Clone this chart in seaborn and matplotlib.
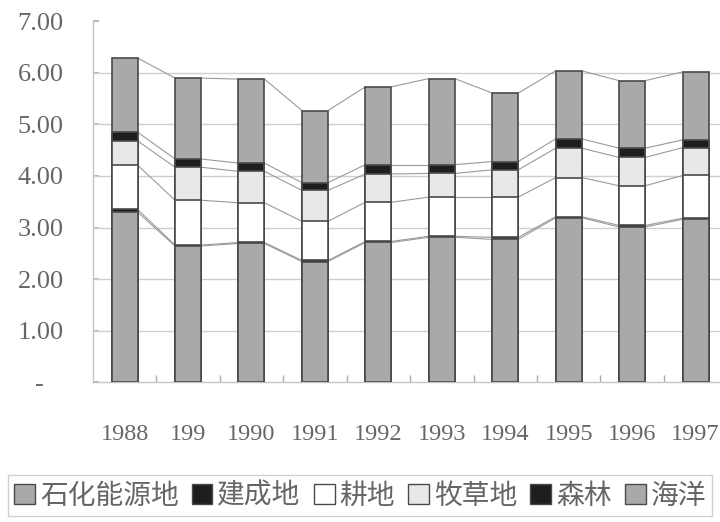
import numpy as np
import pandas as pd
import matplotlib
matplotlib.use("Agg")
import matplotlib.pyplot as plt
from matplotlib.patches import Patch
from matplotlib.ticker import FixedLocator
import seaborn as sns

# data (per-capita footprint by land type)
years = ["1988", "199", "1990", "1991", "1992", "1993", "1994", "1995", "1996", "1997"]
fossil  = [3.30, 2.64, 2.69, 2.34, 2.71, 2.81, 2.77, 3.19, 3.01, 3.16]
built   = [0.05, 0.02, 0.02, 0.02, 0.02, 0.02, 0.04, 0.02, 0.03, 0.02]
arable  = [0.86, 0.87, 0.77, 0.76, 0.76, 0.76, 0.78, 0.76, 0.77, 0.83]
pasture = [0.47, 0.64, 0.61, 0.60, 0.55, 0.46, 0.53, 0.57, 0.55, 0.54]
forest  = [0.17, 0.16, 0.16, 0.15, 0.18, 0.17, 0.16, 0.18, 0.18, 0.15]
ocean   = [1.44, 1.57, 1.63, 1.40, 1.51, 1.67, 1.33, 1.32, 1.31, 1.32]

labels = ["石化能源地", "建成地", "耕地", "牧草地", "森林", "海洋"]
colors = ["#a9a9a9", "#1e1e1e", "#ffffff", "#e8e8e6", "#1e1e1e", "#a9a9a9"]
layers = [fossil, built, arable, pasture, forest, ocean]
ytick_labels = ["-   ", "1.00", "2.00", "3.00", "4.00", "5.00", "6.00", "7.00"]

sns.set_theme(style="white")
plt.rcParams["font.family"] = ["Liberation Serif", "Noto Sans CJK SC"]

df = pd.DataFrame(dict(zip(labels, layers)), index=years)
cum = df.cumsum(axis=1)

BAR_W = 0.41
EDGE = "#4a4a4a"
TXT = "#666666"

fig = plt.figure(figsize=(7.2, 5.22), dpi=100)
ax = fig.add_axes([0.129, 0.268, 0.871, 0.691])

# stacked bars: draw cumulative totals from the top layer down
for lab, col in reversed(list(zip(labels, colors))):
    sns.barplot(x=years, y=cum[lab].values, color=col, saturation=1,
                width=BAR_W, edgecolor=EDGE, linewidth=1.2, ax=ax, zorder=3)

# series lines between bars
xs = np.arange(len(years))
for lab in labels:
    vals = cum[lab].values
    for i in range(len(years) - 1):
        ax.plot([xs[i] + BAR_W / 2, xs[i + 1] - BAR_W / 2], [vals[i], vals[i + 1]],
                color="#9a9a9a", lw=0.8, zorder=2)

ax.set_xlim(-0.5, 9.385)
ax.set_ylim(0, 7)
ax.set_yticks(np.arange(0, 8, 1))
ax.set_yticklabels(ytick_labels, fontsize=19, color=TXT)
ax.set_xticks(xs)
ax.set_xticklabels(years, fontsize=17.5, color=TXT)
ax.xaxis.set_minor_locator(FixedLocator(xs[:-1] + 0.5))
ax.tick_params(axis="x", which="major", length=0, pad=30)
ax.tick_params(axis="x", which="minor", direction="in", length=5, color="#aaaaaa", bottom=True)
ax.tick_params(axis="y", which="major", direction="in", length=4, color="#aaaaaa", left=True, pad=21)

ax.set_xlabel("")
ax.set_ylabel("")
for y in range(1, 7):
    ax.axhline(y, color="#cfcfcf", lw=1, zorder=1)
for s in ["top", "right"]:
    ax.spines[s].set_visible(False)
for s in ["left", "bottom"]:
    ax.spines[s].set_color("#c4c4c4")
    ax.spines[s].set_linewidth(1)

handles = [Patch(facecolor=c, edgecolor=EDGE, linewidth=1) for c in colors]
leg = fig.legend(handles, labels, loc="center", bbox_to_anchor=(0.5, 0.05), ncol=6,
                 frameon=True, fancybox=False, edgecolor="#c4c4c4",
                 prop={"family": ["Noto Sans CJK SC"], "size": 20, "weight": "light"},
                 handlelength=0.75, handleheight=0.72, handletextpad=0.18,
                 columnspacing=0.47, borderpad=0.2, borderaxespad=0)
leg.get_frame().set_linewidth(1)
for t in leg.get_texts():
    t.set_color(TXT)

fig.savefig("out.png", dpi=100, facecolor="white")
